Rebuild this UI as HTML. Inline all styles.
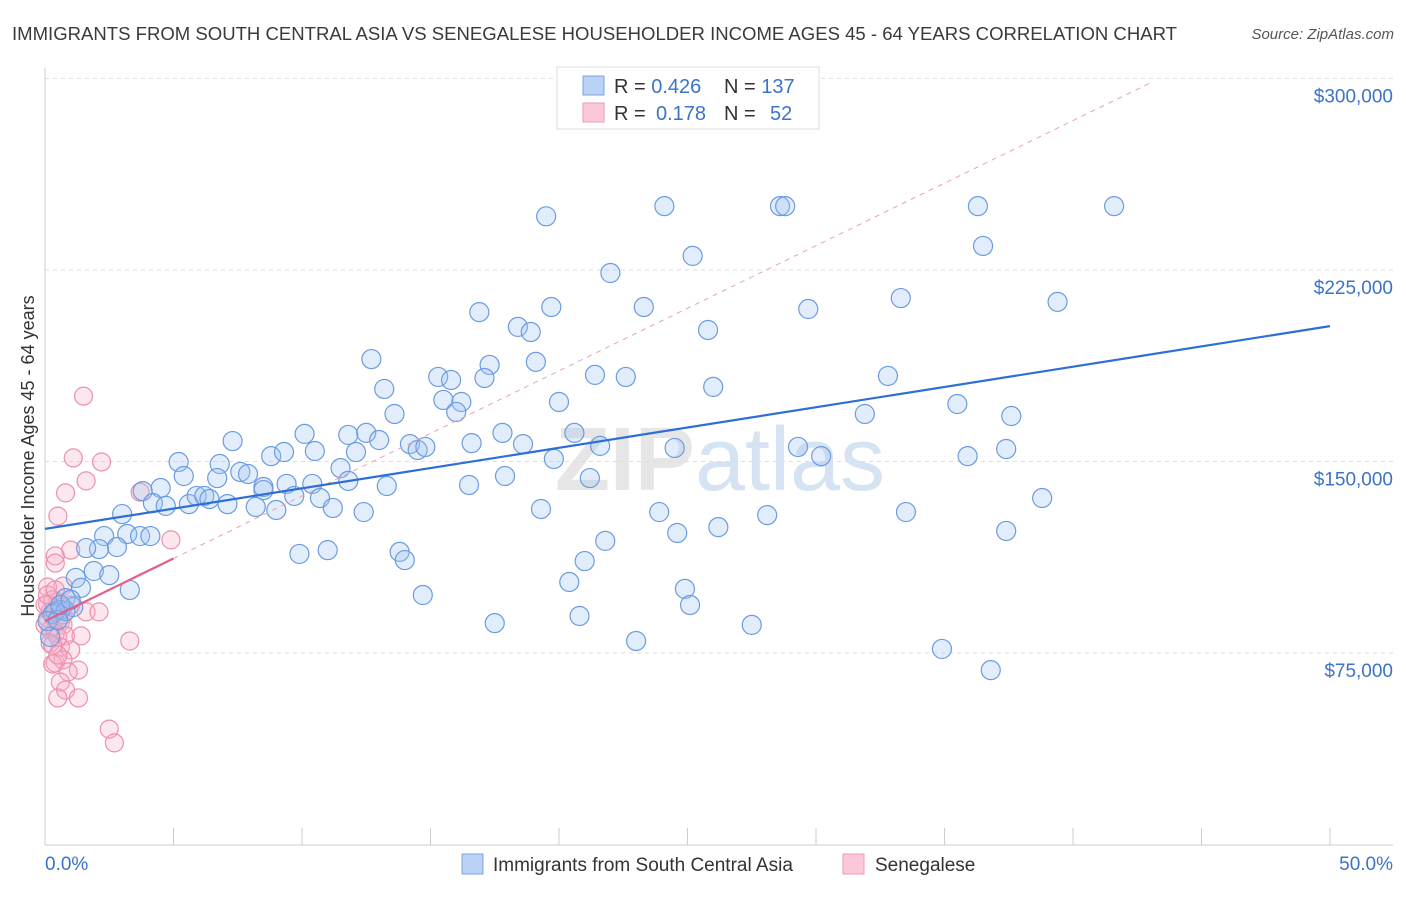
<!DOCTYPE html>
<html><head><meta charset="utf-8">
<style>
body{margin:0;background:#fff;font-family:"Liberation Sans",sans-serif;}
svg text{font-family:"Liberation Sans",sans-serif;}
</style></head>
<body>
<svg id="chart" width="1406" height="892" xmlns="http://www.w3.org/2000/svg">
<text x="12" y="40" font-size="18.5" fill="#3a3a3a" textLength="1165" lengthAdjust="spacingAndGlyphs">IMMIGRANTS FROM SOUTH CENTRAL ASIA VS SENEGALESE HOUSEHOLDER INCOME AGES 45 - 64 YEARS CORRELATION CHART</text>
<text x="1394" y="39" font-size="15" fill="#555" font-style="italic" text-anchor="end">Source: ZipAtlas.com</text>
<text x="720" y="490" font-size="90" fill="#e6e6e6" text-anchor="middle" font-weight="bold">ZIP<tspan fill="#d6e3f3" font-weight="normal">atlas</tspan></text>
<g id="grid"></g>
<g id="axes"></g>
<g id="pinkpts"></g>
<g id="bluepts"></g>
<g id="lines"></g>
<text transform="translate(34,456) rotate(-90)" font-size="18" fill="#333" text-anchor="middle">Householder Income Ages 45 - 64 years</text>
<text x="45" y="870" font-size="19" fill="#3b73c8">0.0%</text>
<text x="1393" y="870" font-size="19" fill="#3b73c8" text-anchor="end">50.0%</text>
<g>
<rect x="557" y="67" width="262" height="62" fill="#fff" stroke="#ddd"/>
<rect x="583" y="76" width="21" height="19" fill="#b9d2f5" stroke="#7aa4e0"/>
<rect x="583" y="103" width="21" height="19" fill="#fbc8d7" stroke="#ef9ab5"/>
<text x="614" y="93" font-size="20" fill="#333">R = <tspan fill="#3b73c8">0.426</tspan><tspan x="724">N = </tspan><tspan fill="#3b73c8">137</tspan></text>
<text x="614" y="120" font-size="20" fill="#333">R = <tspan x="656" fill="#3b73c8">0.178</tspan><tspan x="724">N = </tspan><tspan x="770" fill="#3b73c8">52</tspan></text>
</g>
<g>
<rect x="462" y="854" width="21" height="20" fill="#b9d2f5" stroke="#7aa4e0"/>
<text x="493" y="871" font-size="19" fill="#333">Immigrants from South Central Asia</text>
<rect x="843" y="854" width="21" height="20" fill="#fbc8d7" stroke="#ef9ab5"/>
<text x="875" y="871" font-size="19" fill="#333">Senegalese</text>
</g>
</svg>
<script>
const yTicks=[75000,150000,225000,300000];
const yTickLabels=["$75,000","$150,000","$225,000","$300,000"];
const blueX=[19.5,24.1,28.6,28.8,36.3,41.6,36.5,22.0,25.2,16.9,19.7,23.3,29.7,33.3,39.4,18.4,18.9,25.8,12.7,17.3,19.1,15.3,15.8,17.1,21.4,22.6,26.0,32.8,13.2,15.5,16.2,16.0,20.0,13.6,31.9,35.5,37.6,7.3,10.1,11.8,12.5,13.0,14.2,14.5,14.8,16.6,17.8,18.6,20.6,21.6,24.5,29.3,30.2,37.4,35.9,8.8,9.3,10.5,12.1,11.5,5.2,6.8,7.6,7.9,5.4,6.7,11.8,13.3,17.9,19.8,21.2,16.5,8.5,9.4,10.4,10.7,9.7,8.5,4.5,3.8,4.2,4.7,5.6,5.9,6.2,6.4,7.1,8.2,9.0,11.2,12.4,19.3,23.9,28.1,33.5,38.8,3.0,2.3,3.2,3.7,4.1,2.8,2.1,1.6,26.2,24.6,37.4,21.8,9.9,11.0,13.8,14.0,21.0,20.4,1.9,2.5,1.2,1.4,3.3,24.9,25.1,14.7,20.8,17.5,27.5,23.0,34.9,36.8,0.8,1.1,0.6,0.4,0.3,0.8,0.2,0.1,0.5,0.6,1.0];
const blueY=[246,250,250,250,250,250,234.4,223.8,230.5,208.5,210.5,210.5,209.7,214,212.5,202.7,200.7,201.5,190.1,187.8,189,183.1,181.9,182.7,183.9,183.1,179.2,183.5,178.4,174.1,173.3,169.4,173.3,168.6,168.6,172.5,167.8,158,160.8,160.4,161.2,158.4,156.8,154.5,155.7,157.2,161.2,156.8,161.2,156.1,155.3,155.7,152.1,154.9,152.1,152.1,153.7,154.1,153.7,147.4,149.8,149,145.9,145.1,144.3,143.5,142.4,140.4,144.3,151,143.5,140.8,140,141.2,141.2,135.7,136.5,138.8,139.6,138.4,133.7,132.6,133.3,136.5,136.5,135.3,133.3,132.2,131,131.8,130.2,131.4,130.2,129,130.2,135.7,129.4,120.8,121.6,120.8,120.8,116.5,115.7,116.1,124.3,122,122.8,118.9,113.8,115.3,114.6,111.4,111,102.8,107.1,105.5,104.4,100.5,99.7,100.1,93.8,97.7,89.5,86.7,86,79.7,76.6,68.3,96.5,93,91.8,91.1,90.3,91.4,81.3,87.5,87.9,93.8,95.8];
const pinkX=[1.5,1.1,2.2,1.6,0.8,3.7,0.5,4.9,1.0,0.4,0.4,0.7,0.1,0.1,0.3,0.5,0.7,1.6,2.1,0.1,0.4,0.6,0.7,0.2,0.4,0.5,0.8,1.4,3.3,0.2,0.6,1.0,0.4,0.7,0.3,1.3,0.9,0.6,0.8,0.5,1.3,2.5,2.7,0.2,0.0,0.0,0.3,0.5,0.7,1.0,0.1,0.4];
const pinkY=[175.6,151.4,149.8,142.4,137.7,138,128.6,119.3,115.3,113,110.2,101.2,100.8,94.2,95.8,95,93,91.1,91.1,88.7,87.9,87.1,86,84,82.8,81.3,81.7,81.7,79.7,78.9,77.3,76.2,71.1,72.3,70.7,68.3,67.6,63.6,60.5,57.4,57.4,45.2,39.8,91.1,93.8,86,78.1,74.2,89.9,93.8,97.7,99.7];
const blueTrend=[123.6,203];
const pinkTrend=[87.5,4.9];
const NS="http://www.w3.org/2000/svg";
const X=v=>45+v*25.7;
const Y=k=>653-(k-75)/0.3916;
function mk(tag,attrs,parent){const e=document.createElementNS(NS,tag);for(const a in attrs)e.setAttribute(a,attrs[a]);parent.appendChild(e);return e;}
const grid=document.getElementById('grid');
yTicks.forEach((t,i)=>{const y=Y(t/1000);
const l=mk('line',{x1:45,x2:1393,y1:y,y2:y,stroke:'#ddd','stroke-dasharray':'4,4'},grid);


const tx=mk('text',{x:1393,y:y+24,'font-size':19,fill:'#3b73c8','text-anchor':'end'},grid);
tx.textContent=yTickLabels[i];

});
const axes=document.getElementById('axes');
mk('line',{x1:45,x2:45,y1:68,y2:845,stroke:'#ccc'},axes);
mk('line',{x1:45,x2:1393,y1:845,y2:845,stroke:'#ccc'},axes);
for(let i=0;i<=10;i++){const x=X(i*5);const t=mk('line',{x1:x,x2:x,y1:828,y2:845,stroke:'#ccc'},axes);

}
const bp=document.getElementById('bluepts');
blueX.forEach((v,i)=>{const c=mk('circle',{cx:X(v),cy:Y(blueY[i]),r:9.5,fill:'rgba(160,195,242,0.3)',stroke:'#6b9be0','stroke-width':1.2},bp);

});
const pp=document.getElementById('pinkpts');
pinkX.forEach((v,i)=>{const c=mk('circle',{cx:X(v),cy:Y(pinkY[i]),r:9,fill:'rgba(247,175,198,0.3)',stroke:'#ec8fae','stroke-width':1.2},pp);

});
const ln=document.getElementById('lines');
const d=mk('line',{x1:X(5),y1:Y(pinkTrend[0]+5*pinkTrend[1]),x2:X(43),y2:Y(pinkTrend[0]+43*pinkTrend[1]),stroke:'#e8a0b8','stroke-dasharray':'5,5','stroke-width':1},ln);


const b=mk('line',{x1:X(0),y1:Y(blueTrend[0]),x2:X(50),y2:Y(blueTrend[1]),stroke:'#2d6fd6','stroke-width':2.2},ln);


const p=mk('line',{x1:X(0),y1:Y(pinkTrend[0]),x2:X(5),y2:Y(pinkTrend[0]+5*pinkTrend[1]),stroke:'#e0608a','stroke-width':2.2},ln);


</script>
</body></html>
